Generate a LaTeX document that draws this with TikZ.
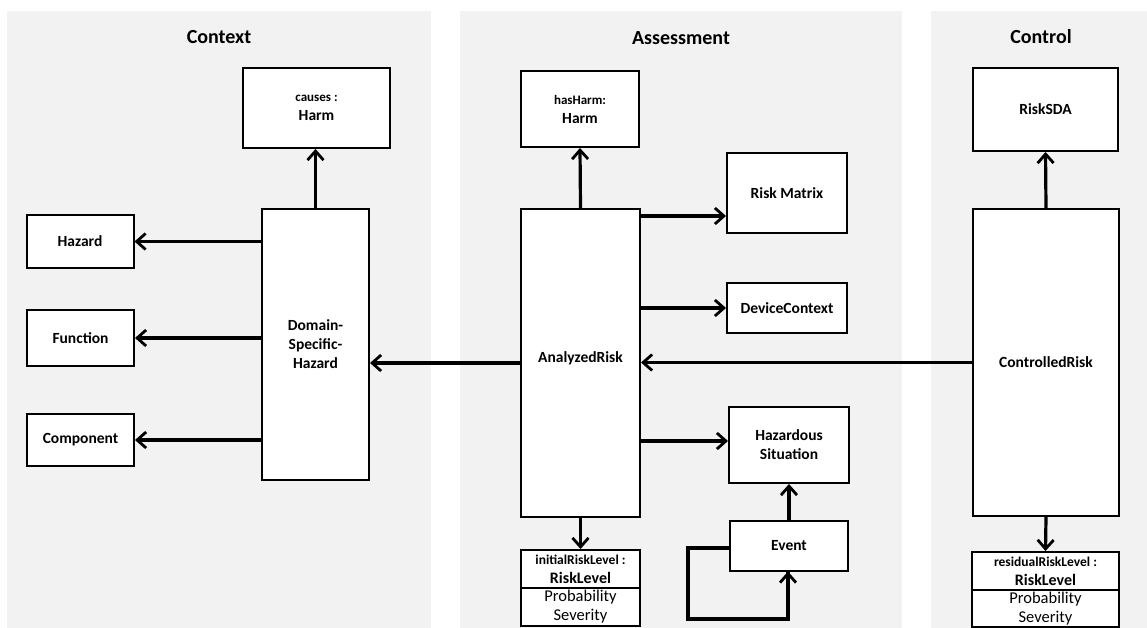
\documentclass[tikz,border=0pt]{standalone}
\usepackage{fontspec}
\setmainfont{Carlito}
\usetikzlibrary{arrows.meta,calc}
\definecolor{panel}{HTML}{F2F2F2}
\tikzset{
  box/.style={draw=black, line width=2pt, fill=white, inner sep=0pt, align=center,
    font=\bfseries\fontsize{15.5}{19}\selectfont},
  arr/.style={line width=3.2pt, -{Straight Barb[length=9pt,width=16pt,line width=2.8pt]}},
  loopline/.style={line width=3.2pt},
  paneltitle/.style={font=\bfseries\fontsize{20}{22}\selectfont}
}
\begin{document}
\begin{tikzpicture}[x=1pt,y=-1pt]
\useasboundingbox (0,0) rectangle (1147,628);
% panels
\fill[panel] (7,11) rectangle (431,628);
\fill[panel] (460,11) rectangle (902,628);
\fill[panel] (931,11) rectangle (1147,628);
\node[paneltitle] (tctx) at (219,37) {Context};
\node[paneltitle] (tass) at (681,38) {Assessment};
\node[paneltitle] (tctl) at (1041,37) {Control};

% Context
\node[box, minimum width=147pt, minimum height=80pt] (causes) at (316.5,108) {{\fontsize{13}{19}\selectfont causes :}\\Harm};
\node[box, minimum width=107pt, minimum height=271pt] (domain) at (315.5,344.5) {Domain-\\Specific-\\Hazard};
\node[box, minimum width=107pt, minimum height=53pt] (hazard) at (80,241.5) {Hazard};
\node[box, minimum width=107pt, minimum height=56pt] (function) at (80.5,338) {Function};
\node[box, minimum width=107pt, minimum height=52pt] (component) at (80.5,440) {Component};

% Assessment
\node[box, minimum width=118pt, minimum height=76pt] (hasharm) at (580,109) {{\fontsize{13}{19}\selectfont hasHarm:}\\Harm};
\node[box, minimum width=119pt, minimum height=308pt] (analyzed) at (580.5,363) {\raisebox{11pt}{AnalyzedRisk}};
\node[box, minimum width=120pt, minimum height=80pt] (riskmatrix) at (787,193) {Risk Matrix};
\node[box, minimum width=120pt, minimum height=50pt] (device) at (787,308) {DeviceContext};
\node[box, minimum width=120pt, minimum height=76pt] (hazsit) at (789,445) {Hazardous\\Situation};
\node[box, minimum width=118pt, minimum height=50pt] (event) at (789,545.5) {Event};
\node[box, minimum width=119pt, minimum height=38pt] (initrl) at (580.5,569) {{\fontsize{13.5}{19}\selectfont initialRiskLevel :}\\{\fontsize{16}{19}\selectfont RiskLevel}};
\node[box, minimum width=119pt, minimum height=38pt, font=\mdseries\fontsize{16.5}{19}\selectfont] (initbody) at (580.5,607) {Probability\\Severity};

% Control
\node[box, minimum width=145pt, minimum height=83pt] (risksda) at (1045.5,109.5) {RiskSDA};
\node[box, minimum width=146pt, minimum height=307pt] (controlled) at (1046,362.5) {ControlledRisk};
\node[box, minimum width=147pt, minimum height=38pt] (resrl) at (1045.5,571) {{\fontsize{13.5}{19}\selectfont residualRiskLevel :}\\{\fontsize{16}{19}\selectfont RiskLevel}};
\node[box, minimum width=147pt, minimum height=37pt, font=\mdseries\fontsize{16.5}{19}\selectfont] (resbody) at (1045.5,608.5) {Probability\\Severity};

% connectors
\draw[arr] (domain.north) -- (domain.north |- causes.south);
\draw[arr] (domain.west |- hazard.east) -- (hazard.east);
\draw[arr] (domain.west |- function.east) -- (function.east);
\draw[arr] (domain.west |- component.east) -- (component.east);
\draw[arr] (analyzed.west) -- (domain.east |- analyzed.west);
\draw[arr] (analyzed.north) -- (hasharm.south);
\coordinate (rmin) at ([yshift=-23pt]riskmatrix.west);
\coordinate (hsin) at ([yshift=4pt]hazsit.west);
\draw[arr] (analyzed.east |- rmin) -- (rmin);
\draw[arr] (analyzed.east |- device.west) -- (device.west);
\draw[arr] (analyzed.east |- hsin) -- (hsin);
\draw[arr] (analyzed.south) -- (initrl.north);
\draw[arr] (event.north) -- (hazsit.south);
\coordinate (lp) at (688,619);
\draw[loopline, line join=miter] ([yshift=-2.5pt]event.west) -| (lp) -| ([xshift=-1pt]event.south);
\draw[arr] ([xshift=-1pt]event.south |- lp) -- ([xshift=-1pt]event.south);
\draw[arr] (controlled.west) -- (analyzed.east |- controlled.west);
\draw[arr] (controlled.north) -- (risksda.south);
\draw[arr] (controlled.south) -- (resrl.north);
\end{tikzpicture}
\end{document}
